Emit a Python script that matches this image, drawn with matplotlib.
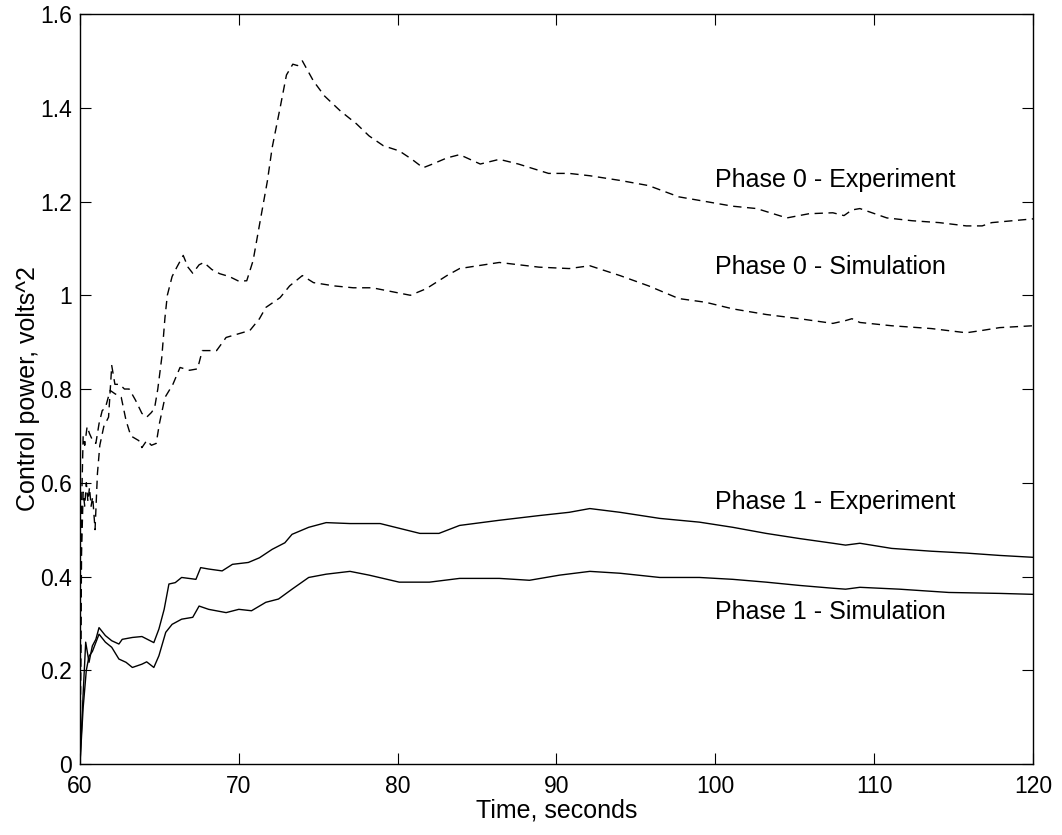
import matplotlib
matplotlib.use('Agg')
import matplotlib.pyplot as plt

plt.rcParams['font.family'] = ['Liberation Sans', 'DejaVu Sans']

# Phase 0 - Experiment (upper dashed curve)
p0_exp_t = [60, 60.1, 60.2, 60.3, 60.4, 60.5, 60.6, 60.7, 60.8, 60.95,
            61.1, 61.25, 61.5, 61.8, 62.0, 62.2, 62.5, 62.8, 63.1, 63.5,
            63.9, 64.2, 64.5, 64.7, 64.9, 65.15, 65.35, 65.5, 65.8, 66.1,
            66.5, 66.8, 67.1, 67.5, 67.8, 68.3, 68.8, 69.4, 70.0, 70.5,
            70.9, 71.3, 71.8, 72.1, 72.6, 73.0, 73.4, 73.7, 74.0, 74.7,
            75.4, 76.4, 77.4, 78.2, 79.1, 80.1, 80.9, 81.6, 82.2, 83.1,
            83.9, 85.2, 86.4, 87.6, 89.5, 90.8, 92.1, 94.0, 95.8, 97.7,
            99.4, 101.1, 102.6, 104.5, 105.9, 107.4, 108.1, 108.6, 109.1, 110.8,
            112.4, 114.1, 115.8, 116.8, 117.4, 120]
p0_exp = [0, 0.45, 0.58, 0.55, 0.60, 0.56, 0.59, 0.55, 0.57, 0.50,
          0.62, 0.68, 0.72, 0.74, 0.85, 0.81, 0.81, 0.80, 0.80, 0.776,
          0.748, 0.74, 0.75, 0.76, 0.80, 0.867, 0.952, 1.00, 1.04, 1.06,
          1.085, 1.06, 1.047, 1.065, 1.07, 1.055, 1.046, 1.04, 1.03, 1.031,
          1.074, 1.15, 1.244, 1.315, 1.40, 1.47, 1.493, 1.49, 1.50, 1.457,
          1.425, 1.393, 1.366, 1.34, 1.319, 1.308, 1.29, 1.272, 1.28, 1.293,
          1.30, 1.28, 1.29, 1.28, 1.26, 1.26, 1.255, 1.245, 1.234, 1.21,
          1.20, 1.19, 1.185, 1.165, 1.174, 1.176, 1.17, 1.182, 1.185, 1.165,
          1.159, 1.155, 1.148, 1.148, 1.155, 1.163]

# Phase 0 - Simulation (lower dashed curve)
p0_sim_t = [60, 60.1, 60.2, 60.3, 60.45, 60.6, 60.8, 61.0, 61.2, 61.4,
            61.6, 61.9, 62.2, 62.6, 62.9, 63.2, 63.7, 63.9, 64.2, 64.5,
            64.8, 65.0, 65.35, 65.85, 66.3, 66.9, 67.4, 67.7, 68.6, 69.2,
            70.2, 70.7, 71.3, 71.7, 72.6, 73.2, 74.0, 74.7, 76.0, 77.2,
            78.4, 79.3, 80.8, 81.8, 83.1, 83.9, 86.4, 88.9, 90.8, 92.1,
            94.0, 95.8, 97.7, 99.4, 101.1, 103.2, 105.3, 107.4, 108.2, 108.6,
            109.1, 111.1, 113.6, 115.8, 116.8, 117.9, 120]
p0_sim = [0, 0.55, 0.70, 0.68, 0.72, 0.705, 0.69, 0.684, 0.726, 0.754,
          0.76, 0.797, 0.79, 0.782, 0.733, 0.70, 0.69, 0.675, 0.69, 0.68,
          0.684, 0.726, 0.782, 0.81, 0.846, 0.84, 0.843, 0.882, 0.882, 0.91,
          0.92, 0.925, 0.95, 0.974, 0.995, 1.02, 1.042, 1.027, 1.02, 1.016,
          1.016, 1.01, 1.0, 1.014, 1.042, 1.057, 1.07, 1.06, 1.057, 1.063,
          1.042, 1.02, 0.993, 0.985, 0.971, 0.959, 0.95, 0.94, 0.946, 0.95,
          0.942, 0.935, 0.929, 0.92, 0.925, 0.931, 0.935]

# Phase 1 - Experiment (upper solid curve)
p1_exp_t = [60, 60.2, 60.36, 60.57, 60.78, 61.0, 61.2, 61.6, 62.0, 62.45,
            62.66, 63.3, 63.9, 64.65, 64.97, 65.3, 65.6, 66.0, 66.4, 67.3,
            67.6, 68.1, 68.95, 69.6, 70.6, 71.3, 72.1, 72.9, 73.35, 74.4,
            75.5, 77.0, 78.9, 81.4, 82.6, 83.9, 86.4, 88.9, 90.8, 92.1,
            94.0, 96.5, 99.0, 101.1, 103.2, 105.3, 107.4, 108.2, 109.1, 111.1,
            113.6, 115.8, 117.9, 120]
p1_exp = [0, 0.15, 0.26, 0.217, 0.252, 0.266, 0.291, 0.274, 0.263, 0.256,
          0.266, 0.27, 0.272, 0.259, 0.288, 0.33, 0.384, 0.387, 0.398, 0.394,
          0.419, 0.416, 0.412, 0.426, 0.43, 0.44, 0.458, 0.472, 0.49, 0.505,
          0.515, 0.513, 0.513, 0.492, 0.492, 0.509, 0.52, 0.53, 0.537, 0.545,
          0.537, 0.524, 0.516, 0.505, 0.492, 0.481, 0.471, 0.467, 0.471, 0.46,
          0.454, 0.45, 0.445, 0.441]

# Phase 1 - Simulation (lower solid curve)
p1_sim_t = [60, 60.2, 60.4, 60.57, 60.78, 61.2, 61.6, 62.0, 62.45, 62.9,
            63.3, 63.9, 64.2, 64.65, 64.97, 65.4, 65.8, 66.4, 67.1, 67.5,
            68.1, 69.2, 70.0, 70.8, 71.7, 72.5, 73.35, 74.4, 75.5, 77.0,
            78.2, 80.1, 82.0, 83.9, 86.4, 88.3, 90.2, 92.1, 94.0, 96.5,
            99.0, 101.1, 103.2, 105.3, 107.4, 108.2, 109.1, 111.6, 114.7, 117.9,
            120]
p1_sim = [0, 0.12, 0.2, 0.23, 0.24, 0.277, 0.26, 0.249, 0.224, 0.217,
          0.206, 0.213, 0.218, 0.206, 0.231, 0.281, 0.298, 0.309, 0.313, 0.337,
          0.33, 0.323, 0.33, 0.327, 0.345, 0.352, 0.373, 0.398, 0.405, 0.411,
          0.403, 0.388, 0.388, 0.396, 0.396, 0.392, 0.403, 0.411, 0.407, 0.398,
          0.398, 0.394, 0.388, 0.381, 0.375, 0.373, 0.377, 0.373, 0.366, 0.364,
          0.362]

labels = ['Phase 0 - Experiment', 'Phase 0 - Simulation',
          'Phase 1 - Experiment', 'Phase 1 - Simulation']
label_y = [1.245, 1.06, 0.56, 0.325]

x_ticks = [60, 70, 80, 90, 100, 110, 120]
y_ticks = [0, 0.2, 0.4, 0.6, 0.8, 1.0, 1.2, 1.4, 1.6]
y_ticklabels = ['0', '0.2', '0.4', '0.6', '0.8', '1', '1.2', '1.4', '1.6']

fig = plt.figure(figsize=(10.62, 8.35), dpi=100)
ax = fig.add_axes([0.0753, 0.085, 0.8974, 0.8982])

ax.plot(p0_exp_t, p0_exp, color='black', lw=1.0, ls=(0, (6, 4)))
ax.plot(p0_sim_t, p0_sim, color='black', lw=1.0, ls=(0, (6, 4)))
ax.plot(p1_exp_t, p1_exp, color='black', lw=1.0)
ax.plot(p1_sim_t, p1_sim, color='black', lw=1.0)

for lab, yy in zip(labels, label_y):
    ax.text(100, yy, lab, fontsize=18, va='center', ha='left')

ax.set_xlim(60, 120)
ax.set_ylim(0, 1.6)
ax.set_xticks(x_ticks)
ax.set_xticklabels([str(v) for v in x_ticks])
ax.set_yticks(y_ticks)
ax.set_yticklabels(y_ticklabels)
ax.tick_params(direction='in', length=8, width=0.8, labelsize=16.5,
               top=True, right=True)
ax.tick_params(axis='x', pad=8)
ax.tick_params(axis='y', pad=6)
for s in ax.spines.values():
    s.set_linewidth(1.0)

ax.set_xlabel('Time, seconds', fontsize=18, labelpad=0)
ax.set_ylabel('Control power, volts^2', fontsize=18, labelpad=0)

fig.savefig('out.png', dpi=100)
